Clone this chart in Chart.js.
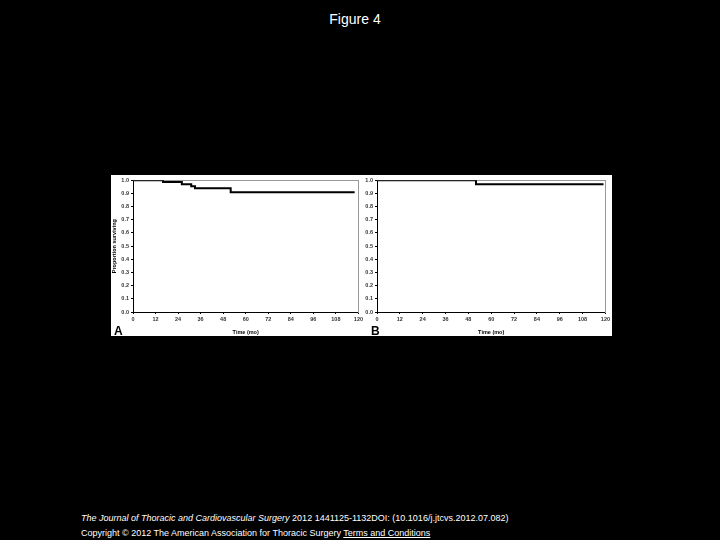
<!DOCTYPE html>
<html>
<head>
<meta charset="utf-8">
<script src="https://cdn.jsdelivr.net/npm/chart.js@4.4.1/dist/chart.umd.min.js"></script>
<style>
  html, body { margin: 0; padding: 0; background: #000; }
  body { width: 720px; height: 540px; position: relative; overflow: hidden; font-family: "Liberation Sans", Arial, sans-serif; }
  #title { position: absolute; top: 11px; left: 0; width: 710px; text-align: center; color: #fff; font-size: 14px; }
  #panel { position: absolute; left: 111px; top: 175px; width: 501px; height: 161px; background: #fff; overflow: hidden; }
  .box { position: absolute; top: 0; height: 161px; }
  #boxA { left: 0; width: 254px; }
  #boxB { left: 254px; width: 247px; }
  .letter { position: absolute; font-weight: bold; font-size: 12px; color: #000; }
  #footer { position: absolute; left: 81px; top: 511px; color: #fff; font-size: 9px; line-height: 15px; }
  #footer a { color: #fff; }
</style>
</head>
<body>
<div id="title">Figure 4</div>
<div id="panel">
  <div class="box" id="boxA"><canvas id="chartA"></canvas></div>
  <div class="box" id="boxB"><canvas id="chartB"></canvas></div>
  <div class="letter" style="left:3px; top:149px;">A</div>
  <div class="letter" style="left:260px; top:149px;">B</div>
</div>
<div id="footer">
  <div><i>The Journal of Thoracic and Cardiovascular Surgery</i> 2012 1441125-1132DOI: (10.1016/j.jtcvs.2012.07.082)</div>
  <div>Copyright © 2012 The American Association for Thoracic Surgery <a href="#">Terms and Conditions</a></div>
</div>
<script>
// Kaplan-Meier curves
const timeA = [0, 16, 26, 31, 33, 52, 118];
const survA = [1.0, 0.988, 0.97, 0.955, 0.94, 0.91, 0.91];

const timeB = [0, 52, 119];
const survB = [1.0, 0.97, 0.97];

// Axis ticks
const xTicks = [0, 12, 24, 36, 48, 60, 72, 84, 96, 108, 120];
const yTicks = [0, 0.1, 0.2, 0.3, 0.4, 0.5, 0.6, 0.7, 0.8, 0.9, 1.0];

const tickFont = { family: 'Liberation Sans', size: 5.5, weight: 'bold' };

function makeChart(id, times, surv, opts) {
    const points = times.map((t, i) => ({ x: t, y: surv[i] }));
    return new Chart(document.getElementById(id), {
        type: 'line',
        data: {
            datasets: [{
                data: points,
                stepped: true,
                borderColor: '#000',
                borderWidth: 2,
                pointRadius: 0,
                fill: false,
                clip: 0
            }]
        },
        options: {
            responsive: true,
            maintainAspectRatio: false,
            animation: false,
            events: [],
            layout: { padding: { top: 4, right: opts.padRight, left: 0, bottom: 0 } },
            plugins: { legend: { display: false }, tooltip: { enabled: false } },
            scales: {
                x: {
                    type: 'linear',
                    min: 0,
                    max: 120,
                    afterBuildTicks: s => { s.ticks = xTicks.map(v => ({ value: v })); },
                    afterFit: s => { s.height = 24; },
                    grid: { drawOnChartArea: false, tickLength: 2, color: '#000' },
                    border: { color: '#000', width: 1 },
                    ticks: { font: tickFont, color: '#333', padding: 2, maxRotation: 0 },
                    title: { display: true, text: 'Time (mo)', font: tickFont, color: '#000', padding: { top: 1, bottom: 0 } }
                },
                y: {
                    type: 'linear',
                    min: 0,
                    max: 1,
                    afterBuildTicks: s => { s.ticks = yTicks.map(v => ({ value: v })); },
                    afterFit: s => { s.width = opts.yWidth; },
                    grid: { drawOnChartArea: false, tickLength: 2, color: '#000' },
                    border: { color: '#000', width: 1 },
                    ticks: { font: tickFont, color: '#333', padding: 2, callback: v => v.toFixed(1) },
                    title: { display: opts.yTitle, text: 'Proportion surviving', font: tickFont, color: '#000', padding: { top: 0, bottom: 1 } }
                },
                x2: {
                    type: 'linear',
                    position: 'top',
                    afterFit: s => { s.height = 0; },
                    grid: { display: false },
                    ticks: { display: false },
                    border: { color: '#999', width: 1, dash: [1, 2] }
                },
                y2: {
                    type: 'linear',
                    position: 'right',
                    afterFit: s => { s.width = 0; },
                    grid: { display: false },
                    ticks: { display: false },
                    border: { color: '#999', width: 1, dash: [1, 2] }
                }
            }
        }
    });
}

makeChart('chartA', timeA, survA, { yWidth: 22, padRight: 6, yTitle: true });
makeChart('chartB', timeB, survB, { yWidth: 12, padRight: 5, yTitle: false });
</script>
</body>
</html>
